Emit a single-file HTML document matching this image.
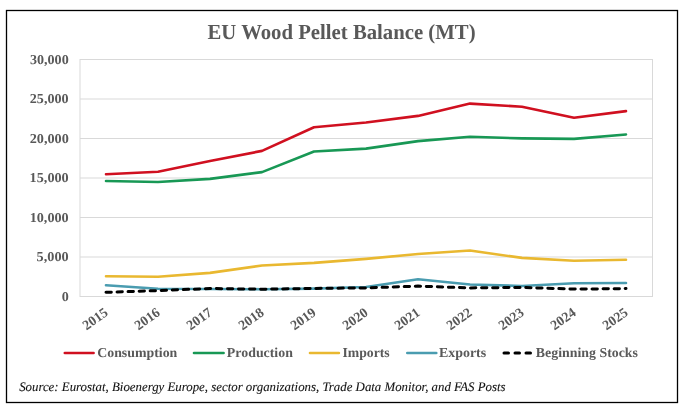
<!DOCTYPE html>
<html><head><meta charset="utf-8"><title>EU Wood Pellet Balance (MT)</title>
<style>
html,body{margin:0;padding:0;background:#fff;}
body{width:684px;height:410px;overflow:hidden;}
svg{display:block;text-rendering:geometricPrecision;}
.lab{font-family:"Liberation Serif","Times New Roman",serif;font-weight:bold;fill:#595959;}
.src{font-family:"Liberation Serif","Times New Roman",serif;font-style:italic;fill:#111;stroke:#111;stroke-width:0.1px;}
</style></head><body>
<svg width="684" height="410" viewBox="0 0 684 410">
<rect x="0" y="0" width="684" height="410" fill="#fff"/>
<rect x="6.5" y="10.5" width="671" height="392" fill="none" stroke="#000" stroke-width="1.3"/>

<text id="title" class="lab" x="207.51" y="38.6" font-size="21.5" textLength="268.11" lengthAdjust="spacingAndGlyphs">EU Wood Pellet Balance (MT)</text>
<line x1="80" y1="59.5" x2="653" y2="59.5" stroke="#d9d9d9" stroke-width="1"/>
<line x1="80" y1="99.0" x2="653" y2="99.0" stroke="#d9d9d9" stroke-width="1"/>
<line x1="80" y1="138.5" x2="653" y2="138.5" stroke="#d9d9d9" stroke-width="1"/>
<line x1="80" y1="178.0" x2="653" y2="178.0" stroke="#d9d9d9" stroke-width="1"/>
<line x1="80" y1="217.5" x2="653" y2="217.5" stroke="#d9d9d9" stroke-width="1"/>
<line x1="80" y1="257.0" x2="653" y2="257.0" stroke="#d9d9d9" stroke-width="1"/>
<line x1="80" y1="296.5" x2="653" y2="296.5" stroke="#d9d9d9" stroke-width="1"/>
<line x1="80" y1="59" x2="80" y2="297" stroke="#d9d9d9" stroke-width="1"/>
<line x1="652.5" y1="59" x2="652.5" y2="297" stroke="#d9d9d9" stroke-width="1"/>
<text id="y0" class="lab" x="29.91" y="63.8" font-size="13.6" textLength="38.79" lengthAdjust="spacingAndGlyphs">30,000</text>
<text id="y1" class="lab" x="29.81" y="103.3" font-size="13.6" textLength="38.82" lengthAdjust="spacingAndGlyphs">25,000</text>
<text id="y2" class="lab" x="29.69" y="142.8" font-size="13.6" textLength="39.09" lengthAdjust="spacingAndGlyphs">20,000</text>
<text id="y3" class="lab" x="29.60" y="182.3" font-size="13.6" textLength="39.15" lengthAdjust="spacingAndGlyphs">15,000</text>
<text id="y4" class="lab" x="29.67" y="221.8" font-size="13.6" textLength="39.04" lengthAdjust="spacingAndGlyphs">10,000</text>
<text id="y5" class="lab" x="36.61" y="261.3" font-size="13.6" textLength="32.07" lengthAdjust="spacingAndGlyphs">5,000</text>
<text id="y6" class="lab" x="61.69" y="300.8" font-size="13.6" textLength="7.04" lengthAdjust="spacingAndGlyphs">0</text>
<text class="lab" x="0" y="0" font-size="13.8" text-anchor="end" transform="translate(109.0,314.6) rotate(-35)">2015</text>
<text class="lab" x="0" y="0" font-size="13.8" text-anchor="end" transform="translate(161.0,314.6) rotate(-35)">2016</text>
<text class="lab" x="0" y="0" font-size="13.8" text-anchor="end" transform="translate(213.0,314.6) rotate(-35)">2017</text>
<text class="lab" x="0" y="0" font-size="13.8" text-anchor="end" transform="translate(265.0,314.6) rotate(-35)">2018</text>
<text class="lab" x="0" y="0" font-size="13.8" text-anchor="end" transform="translate(317.0,314.6) rotate(-35)">2019</text>
<text class="lab" x="0" y="0" font-size="13.8" text-anchor="end" transform="translate(369.0,314.6) rotate(-35)">2020</text>
<text class="lab" x="0" y="0" font-size="13.8" text-anchor="end" transform="translate(421.0,314.6) rotate(-35)">2021</text>
<text class="lab" x="0" y="0" font-size="13.8" text-anchor="end" transform="translate(473.0,314.6) rotate(-35)">2022</text>
<text class="lab" x="0" y="0" font-size="13.8" text-anchor="end" transform="translate(525.0,314.6) rotate(-35)">2023</text>
<text class="lab" x="0" y="0" font-size="13.8" text-anchor="end" transform="translate(577.0,314.6) rotate(-35)">2024</text>
<text class="lab" x="0" y="0" font-size="13.8" text-anchor="end" transform="translate(629.0,314.6) rotate(-35)">2025</text>
<polyline points="106,276.3 158,276.8 210,272.9 262,265.5 314,262.9 366,258.9 418,254.0 470,250.5 522,257.9 574,260.7 626,259.8" fill="none" stroke="#e9b830" stroke-width="2.6" stroke-linejoin="round" stroke-linecap="round"/>
<polyline points="106,285.2 158,288.8 210,289.0 262,289.2 314,288.6 366,287.0 418,279.2 470,284.5 522,286.0 574,283.2 626,283.0" fill="none" stroke="#4a9cb0" stroke-width="2.6" stroke-linejoin="round" stroke-linecap="round"/>
<polyline points="106,292.3 158,290.6 210,288.5 262,289.2 314,288.4 366,287.9 418,286.1 470,287.9 522,287.4 574,289.1 626,288.6" fill="none" stroke="#000" stroke-width="3" stroke-dasharray="5.3 5.75" stroke-linecap="round" stroke-linejoin="round"/>
<polyline points="106,181.0 158,182.0 210,178.89999999999998 262,172.1 314,151.5 366,148.6 418,141.1 470,136.79999999999998 522,138.39999999999998 574,138.89999999999998 626,134.5" fill="none" stroke="#189855" stroke-width="2.6" stroke-linejoin="round" stroke-linecap="round"/>
<polyline points="106,174.3 158,171.70000000000002 210,160.9 262,150.9 314,127.2 366,122.5 418,115.9 470,103.60000000000001 522,106.7 574,117.80000000000001 626,111.10000000000001" fill="none" stroke="#d01020" stroke-width="2.6" stroke-linejoin="round" stroke-linecap="round"/>
<line x1="64.8" y1="353.0" x2="93.60000000000001" y2="353.0" stroke="#d01020" stroke-width="2.6" stroke-linecap="round"/>
<line x1="194.0" y1="353.0" x2="223.6" y2="353.0" stroke="#189855" stroke-width="2.6" stroke-linecap="round"/>
<line x1="310.0" y1="353.0" x2="338.9" y2="353.0" stroke="#e9b830" stroke-width="2.6" stroke-linecap="round"/>
<line x1="407.3" y1="353.0" x2="436.3" y2="353.0" stroke="#4a9cb0" stroke-width="2.6" stroke-linecap="round"/>
<line x1="504.0" y1="353.0" x2="530.5" y2="353.0" stroke="#000" stroke-width="3" stroke-linecap="round" stroke-dasharray="4.5 6.5"/>
<text id="l_cons" class="lab" x="97.23" y="356.5" font-size="13.6" textLength="80.10" lengthAdjust="spacingAndGlyphs">Consumption</text>
<text id="l_prod" class="lab" x="226.89" y="356.5" font-size="13.6" textLength="65.99" lengthAdjust="spacingAndGlyphs">Production</text>
<text id="l_imp" class="lab" x="342.43" y="356.5" font-size="13.6" textLength="47.29" lengthAdjust="spacingAndGlyphs">Imports</text>
<text id="l_exp" class="lab" x="438.91" y="356.5" font-size="13.6" textLength="47.29" lengthAdjust="spacingAndGlyphs">Exports</text>
<text id="l_stk" class="lab" x="535.86" y="356.5" font-size="13.6" textLength="102.11" lengthAdjust="spacingAndGlyphs">Beginning Stocks</text>
<text id="src" class="src" x="19.15" y="390.7" font-size="13" textLength="486.42" lengthAdjust="spacingAndGlyphs">Source: Eurostat, Bioenergy Europe, sector organizations, Trade Data Monitor, and FAS Posts</text>
</svg></body></html>
